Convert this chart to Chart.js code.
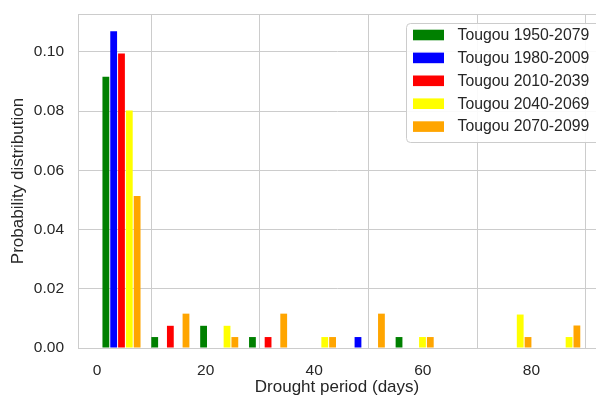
<!DOCTYPE html>
<html>
<head>
<meta charset="utf-8">
<script src="https://cdn.jsdelivr.net/npm/chart.js@4"></script>
<style>
  html, body { margin: 0; padding: 0; background: #ffffff; }
  canvas { display: block; }
</style>
</head>
<body>
<canvas id="chart" width="596" height="398"></canvas>
<script>
// Histogram of drought-period lengths (days); bins start at these values and are 9 days wide
const binStarts = [0, 9, 18, 27, 36, 45, 54, 63, 72, 81];
const seriesLabels = ['Tougou 1950-2079', 'Tougou 1980-2009', 'Tougou 2010-2039', 'Tougou 2040-2069', 'Tougou 2070-2099'];

// Probability density per bin for each period
const p1950 = [0.0916, 0.0037, 0.0075, 0.0037, 0, 0, 0.0037, 0, 0, 0];
const p1980 = [0.1070, 0, 0, 0, 0, 0.0037, 0, 0, 0, 0];
const p2010 = [0.0995, 0.0075, 0, 0.0037, 0, 0, 0, 0, 0, 0];
const p2040 = [0.0802, 0, 0.0075, 0, 0.0037, 0, 0.0037, 0, 0.0113, 0.0037];
const p2070 = [0.0513, 0.0116, 0.0037, 0.0116, 0.0037, 0.0116, 0.0037, 0, 0.0037, 0.0076];

const xTicks = [0, 20, 40, 60, 80];
const yTicks = [0, 0.02, 0.04, 0.06, 0.08, 0.10];

const seriesValues = [p1950, p1980, p2010, p2040, p2070];
const seriesColors = ['#008000', '#0000ff', '#ff0000', '#ffff00', '#ffa500'];

const FONT = "'Liberation Sans', Arial, Helvetica, sans-serif";
const TEXT = '#262626';
const GRID = '#cccccc';
Chart.defaults.font.family = FONT;

// Side-by-side histogram bars: 80% of each bin is shared equally by the series
const binWidth = binStarts[1] - binStarts[0];
const slot = binWidth * 0.8 / seriesValues.length;
const slotCenter = (start, k) => start + binWidth * 0.1 + slot * (k + 0.5);

const datasets = seriesValues.map((vals, k) => ({
  label: seriesLabels[k],
  backgroundColor: seriesColors[k],
  data: vals.map((v, i) => ({ x: slotCenter(binStarts[i], k), y: v }))
}));

// Top spine of the plot frame
const framePlugin = {
  id: 'frame',
  beforeDatasetsDraw(chart) {
    const { ctx, chartArea: a } = chart;
    ctx.save();
    ctx.strokeStyle = GRID;
    ctx.lineWidth = 1;
    ctx.beginPath();
    ctx.moveTo(a.left, a.top + 0.5);
    ctx.lineTo(a.right, a.top + 0.5);
    ctx.stroke();
    ctx.restore();
  }
};

// Legend box in the upper right of the plot
const legendBox = {
  id: 'legendBox',
  afterDraw(chart) {
    const { ctx } = chart;
    const left = 406, top = 23, width = 196, height = 119, r = 4;
    ctx.save();
    ctx.beginPath();
    ctx.roundRect(left + 0.5, top + 0.5, width, height, r);
    ctx.fillStyle = 'rgba(255,255,255,0.9)';
    ctx.fill();
    ctx.strokeStyle = GRID;
    ctx.lineWidth = 1;
    ctx.stroke();
    ctx.font = '15.8px ' + FONT;
    ctx.textBaseline = 'middle';
    ctx.textAlign = 'left';
    chart.data.datasets.forEach((ds, i) => {
      const cy = top + 12 + i * 22.9;
      ctx.fillStyle = ds.backgroundColor;
      ctx.fillRect(left + 7, cy - 5.3, 31, 10.6);
      ctx.fillStyle = TEXT;
      ctx.fillText(ds.label, left + 51.5, cy + 0.5);
    });
    ctx.restore();
  }
};

new Chart(document.getElementById('chart'), {
  type: 'bar',
  data: { datasets },
  plugins: [framePlugin, legendBox],
  options: {
    responsive: false,
    animation: false,
    devicePixelRatio: 1,
    layout: { padding: { left: 0, right: 0, top: 14, bottom: 0 } },
    plugins: { legend: { display: false }, tooltip: { enabled: false } },
    datasets: {
      bar: { grouped: false, categoryPercentage: 1, barPercentage: 0.87, borderWidth: 0 }
    },
    scales: {
      x: {
        type: 'linear',
        offset: false,
        min: -3.51,
        max: 91.9,
        afterBuildTicks: s => { s.ticks = xTicks.map(v => ({ value: v })); },
        afterFit: s => { s.height = 50; s.paddingLeft = 0; s.paddingRight = 0; },
        grid: { color: GRID, lineWidth: 1, drawTicks: false },
        border: { color: GRID, width: 1 },
        ticks: { padding: 13, color: TEXT, font: { size: 15.5 }, maxRotation: 0, callback: v => String(v) },
        title: {
          display: true, text: 'Drought period (days)', color: TEXT,
          font: { size: 17 }, padding: { top: 0, bottom: 0 }
        }
      },
      y: {
        min: 0,
        max: 0.1128,
        afterBuildTicks: s => { s.ticks = yTicks.map(v => ({ value: v })); },
        afterFit: s => { s.width = 78; s.paddingTop = 0; s.paddingBottom = 0; },
        grid: { color: GRID, lineWidth: 1, drawTicks: false },
        border: { color: GRID, width: 1 },
        ticks: { padding: 14, color: TEXT, font: { size: 15.5 }, callback: v => v.toFixed(2) },
        title: {
          display: true, text: 'Probability distribution', color: TEXT,
          font: { size: 17 }, padding: { top: 8, bottom: 0 }
        }
      }
    }
  }
});
</script>
</body>
</html>
